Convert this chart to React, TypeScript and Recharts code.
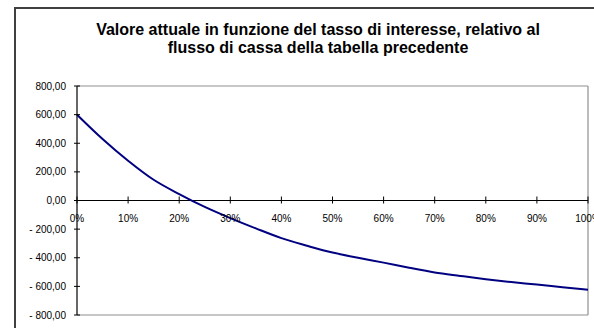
import React from 'react';
import {
  LineChart,
  Line,
  XAxis,
  YAxis,
  ReferenceLine,
} from 'recharts';

// tassi di interesse (%)
const rates = [0, 5, 10, 15, 20, 25, 30, 35, 40, 45, 50, 55, 60, 65, 70, 75, 80, 85, 90, 95, 100];
// valore attuale
const values = [600, 430, 278, 145, 45, -45, -123, -195, -263, -316, -364, -400, -434, -470, -503, -527, -550, -570, -587, -606, -624];

const xTicks = [0, 10, 20, 30, 40, 50, 60, 70, 80, 90, 100];
const yTicks = [-800, -600, -400, -200, 0, 200, 400, 600, 800];

const data = rates.map((r, i) => ({ rate: r, va: values[i] }));

const W = 594;
const H = 328;
const X_AXIS_H = 13;
const M = { top: 86, right: 6, bottom: 0, left: 0 };
const PLOT_H = H - M.top - M.bottom - X_AXIS_H;
const ZERO_Y = M.top + PLOT_H / 2; // dominio simmetrico -800..800

const FONT = '"Liberation Sans", Arial, sans-serif';

const fmtY = (v: number) => {
  const s = Math.abs(v).toFixed(2).replace('.', ',');
  return v < 0 ? '- ' + s : s;
};

// tick a croce sull'asse Y
const YTick = (props: any) => {
  const { x, y, payload } = props;
  const ax = x + 8;
  return (
    <g>
      <line x1={ax - 3} x2={ax + 3} y1={y} y2={y} stroke="#000" />
      <text x={ax - 11} y={y} dy={3.5} textAnchor="end" fontSize={10} fontFamily={FONT} fill="#000" style={{ whiteSpace: 'pre' }}>
        {fmtY(payload.value)}
      </text>
    </g>
  );
};

// asse X disegnato sulla linea dello zero
const XTick = (props: any) => {
  const { x, payload } = props;
  return (
    <g>
      <line x1={x} x2={x} y1={ZERO_Y - 4} y2={ZERO_Y + 3} stroke="#000" />
      <text x={x} y={ZERO_Y + 21} textAnchor="middle" fontSize={10} fontFamily={FONT} fill="#000">
        {payload.value + '%'}
      </text>
    </g>
  );
};

export default function App() {
  return (
    <div
      style={{
        position: 'fixed',
        left: 0,
        top: 0,
        width: W,
        height: H,
        overflow: 'hidden',
        background: '#fff',
      }}
    >
      <div
        style={{
          position: 'absolute',
          left: 14,
          top: 7,
          width: 700,
          height: 400,
          borderLeft: '2px solid #404040',
          borderTop: '2px solid #404040',
        }}
      />
      <div
        style={{
          position: 'absolute',
          left: 18,
          top: 21,
          width: 600,
          textAlign: 'center',
          fontFamily: FONT,
          fontWeight: 'bold',
          fontSize: 16,
          lineHeight: '18px',
          color: '#000',
        }}
      >
        Valore attuale in funzione del tasso di interesse, relativo al
        <br />
        flusso di cassa della tabella precedente
      </div>
      <div style={{ position: 'absolute', left: 0, top: 0 }}>
        <LineChart width={W} height={H} data={data} margin={M}>
          <XAxis
            type="number"
            dataKey="rate"
            domain={[0, 100]}
            ticks={xTicks}
            interval={0}
            height={X_AXIS_H}
            axisLine={false}
            tickLine={false}
            tick={<XTick />}
          />
          <YAxis
            type="number"
            domain={[-800, 800]}
            ticks={yTicks}
            interval={0}
            width={77}
            axisLine={{ stroke: '#000', strokeWidth: 1.2 }}
            tickLine={false}
            tick={<YTick />}
          />
          <ReferenceLine y={800} stroke="#909090" strokeWidth={1.2} ifOverflow="visible" />
          <ReferenceLine y={-800} stroke="#909090" strokeWidth={1.2} ifOverflow="visible" />
          <ReferenceLine x={100} stroke="#909090" strokeWidth={1.2} ifOverflow="visible" />
          <ReferenceLine y={0} stroke="#000" strokeWidth={1.2} />
          <Line
            type="monotone"
            dataKey="va"
            stroke="#000080"
            strokeWidth={2}
            dot={false}
            isAnimationActive={false}
          />
        </LineChart>
      </div>
    </div>
  );
}
